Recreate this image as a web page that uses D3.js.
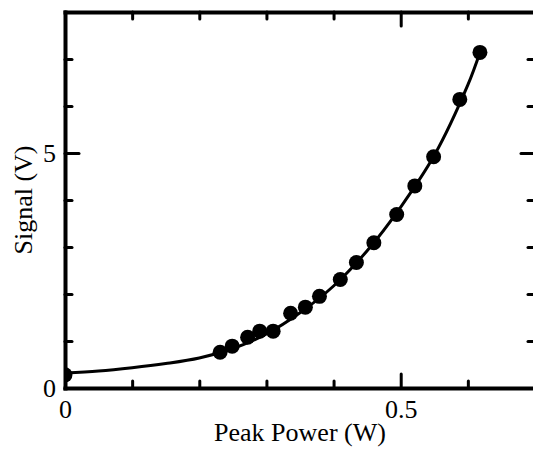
<!DOCTYPE html>
<html>
<head>
<meta charset="utf-8">
<script src="https://cdn.jsdelivr.net/npm/d3@7"></script>
<style>
  html, body { margin: 0; padding: 0; background: #fff; }
  svg { display: block; overflow: hidden; }
  text { font-family: "Liberation Serif", "Times New Roman", serif; fill: #000; }
</style>
</head>
<body>
<div id="chart"></div>
<script>
// measured points
const powerW  = [0, 0.231, 0.249, 0.272, 0.290, 0.310, 0.336, 0.358, 0.379, 0.410, 0.434, 0.460, 0.494, 0.521, 0.549, 0.588, 0.618];
const signalV = [0.28, 0.76, 0.89, 1.08, 1.21, 1.21, 1.59, 1.72, 1.95, 2.31, 2.67, 3.09, 3.69, 4.30, 4.92, 6.14, 7.14];

// fitted curve
const fitPowerW  = [0, 0.05, 0.10, 0.15, 0.20, 0.25, 0.30, 0.35, 0.40, 0.45, 0.50, 0.55, 0.60, 0.618];
const fitSignalV = [0.32, 0.36, 0.43, 0.52, 0.64, 0.84, 1.15, 1.60, 2.17, 2.92, 3.85, 4.95, 6.45, 7.14];

const xMajor = [0, 0.5];
const xMinor = [0.1, 0.2, 0.3, 0.4, 0.6];
const yMajor = [0, 5];
const yMinor = [1, 2, 3, 4, 6, 7];

const totalWidth = 533, totalHeight = 451;
const margin = {top: 12, left: 65};
const width = 470, height = 376;

const svg = d3.select("#chart").append("svg")
  .attr("width", totalWidth)
  .attr("height", totalHeight);

const g = svg.append("g")
  .attr("transform", "translate(" + margin.left + "," + margin.top + ")");

const xScale = d3.scaleLinear().domain([0, 0.7]).range([0, width]);
const yScale = d3.scaleLinear().domain([0, 8]).range([height, 0]);

g.append("clipPath").attr("id", "plotClip")
  .append("rect").attr("x", 0).attr("y", 0).attr("width", width).attr("height", height);

// curve + points
const line = d3.line()
  .x((d) => xScale(d[0]))
  .y((d) => yScale(d[1]))
  .curve(d3.curveCatmullRom.alpha(0.5));

const plot = g.append("g").attr("clip-path", "url(#plotClip)");

plot.append("path")
  .datum(fitPowerW.map((p, i) => [p, fitSignalV[i]]))
  .attr("d", line)
  .attr("fill", "none")
  .attr("stroke", "#000")
  .attr("stroke-width", 3);

plot.selectAll(".dot")
  .data(powerW.map((p, i) => [p, signalV[i]]))
  .enter()
  .append("circle")
  .attr("class", "dot")
  .attr("cx", (d) => xScale(d[0]))
  .attr("cy", (d) => yScale(d[1]))
  .attr("r", 7.5)
  .attr("fill", "#000");

// axes: minor ticks first, then major ticks with labels
const styleAxis = (sel, showDomain) => {
  sel.select(".domain")
    .attr("stroke", showDomain ? "#000" : "none")
    .attr("stroke-width", 4)
    .attr("stroke-linecap", "square");
  sel.selectAll(".tick line")
    .attr("stroke", "#000")
    .attr("stroke-width", 3)
    .attr("stroke-linecap", "round");
  sel.selectAll(".tick text")
    .attr("font-size", 26)
    .attr("fill", "#000");
};

const axisDefs = [
  {make: d3.axisBottom, tr: "translate(0," + height + ")", scale: xScale, minor: xMinor, major: xMajor, labels: true},
  {make: d3.axisTop, tr: "translate(0,0)", scale: xScale, minor: xMinor, major: xMajor, labels: false},
  {make: d3.axisLeft, tr: "translate(0,0)", scale: yScale, minor: yMinor, major: yMajor, labels: true},
  {make: d3.axisRight, tr: "translate(" + width + ",0)", scale: yScale, minor: yMinor, major: yMajor, labels: false}
];

axisDefs.forEach((a) => {
  const minorAxis = a.make(a.scale).tickValues(a.minor).tickSize(-7).tickSizeOuter(0).tickFormat("");
  g.append("g").attr("transform", a.tr).call(minorAxis).call((s) => styleAxis(s, true));

  const majorAxis = a.make(a.scale).tickValues(a.major).tickSize(-14).tickSizeOuter(0)
    .tickPadding(a.make === d3.axisBottom ? 12 : 9)
    .tickFormat(a.labels ? d3.format("") : "");
  g.append("g").attr("transform", a.tr).call(majorAxis).call((s) => styleAxis(s, false));
});

// axis titles
svg.append("text")
  .attr("x", margin.left + xScale(0.35))
  .attr("y", 441)
  .attr("text-anchor", "middle")
  .attr("font-size", 26)
  .text("Peak Power (W)");

svg.append("text")
  .attr("transform", "translate(32," + (margin.top + height / 2) + ") rotate(-90)")
  .attr("text-anchor", "middle")
  .attr("font-size", 26)
  .text("Signal (V)");
</script>
</body>
</html>
